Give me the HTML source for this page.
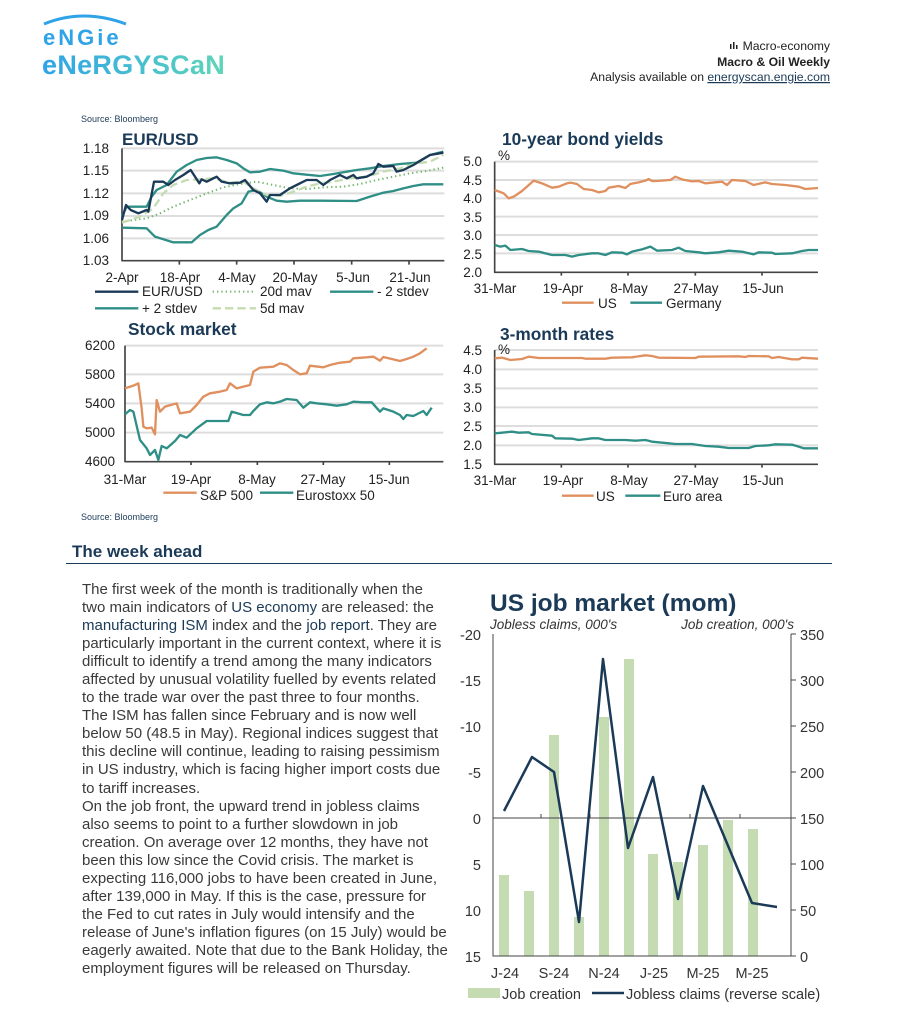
<!DOCTYPE html>
<html><head><meta charset="utf-8"><style>
body{margin:0;background:#fff;width:904px;height:1024px;overflow:hidden;position:relative;font-family:"Liberation Sans",sans-serif}
#para{position:absolute;left:82px;top:581px;font-size:15px;line-height:18.05px;color:#3a3a3a;white-space:nowrap}
#para span{color:#1b3a57}
</style></head><body>
<svg width="904" height="1024" style="position:absolute;left:0;top:0" font-family="Liberation Sans, sans-serif">
<defs><linearGradient id="lg" x1="0" x2="1"><stop offset="0" stop-color="#2ea3e8"/><stop offset="1" stop-color="#5fd6b8"/></linearGradient></defs>
<path d="M44 24 Q83 8 126 24" stroke="#2ea3e8" stroke-width="3" fill="none"/>
<text x="43" y="45" font-size="22" font-weight="bold" fill="#2ea3e8" letter-spacing="3">eNGie</text>
<text x="42" y="74" font-size="27" font-weight="bold" fill="url(#lg)" letter-spacing="0.3">eNeRGYSCaN</text>
<g fill="#222" font-size="12.2" text-anchor="end">
<rect x="730" y="44" width="1.5" height="5"/><rect x="733" y="42" width="1.5" height="7"/><rect x="736" y="45" width="1.5" height="4"/>
<text x="830" y="50">Macro-economy</text>
<text x="830" y="66" font-weight="bold">Macro &amp; Oil Weekly</text>
<text x="830" y="81">Analysis available on <tspan fill="#1b3a57" text-decoration="underline">energyscan.engie.com</tspan></text>
</g>
<text x="81" y="122" font-size="9" fill="#1b3a57">Source: Bloomberg</text>
<text x="81" y="520" font-size="9" fill="#1b3a57">Source: Bloomberg</text>

<text x="122" y="145" font-size="17" font-weight="bold" fill="#1b3a57">EUR/USD</text>
<g transform="scale(0.33333)" fill="none" stroke-linejoin="round">
<g stroke="#ddd" stroke-width="6"><path d="M366 445H1333M366 512H1333M366 580H1333M366 648H1333M366 715H1333"/></g>
<path d="M366 445V782H1333M538 782v12M710 782v12M882 782v12M1055 782v12M1227 782v12" stroke="#444" stroke-width="5"/>
<polyline stroke="#2f8f86" stroke-width="7" points="366,650 380,620 440,620 455,590 470,570 500,555 530,515 560,495 590,480 620,474 650,472 680,480 710,490 730,505 750,517 780,515 810,507 850,512 880,520 920,524 960,528 1000,522 1040,515 1070,510 1110,505 1150,498 1200,492 1250,488 1290,465 1330,455"/>
<polyline stroke="#2f8f86" stroke-width="7" points="366,683 440,685 465,710 520,727 575,727 600,705 625,690 650,680 680,645 700,625 725,610 745,575 770,570 800,590 830,602 860,605 900,602 960,602 1070,603 1110,590 1150,578 1180,573 1210,565 1240,558 1270,553 1330,553"/>
<polyline stroke="#6fb56a" stroke-width="6" stroke-dasharray="4 9" points="366,665 440,655 480,640 520,620 570,600 620,580 670,562 720,552 770,545 820,555 870,565 920,567 970,562 1030,560 1080,552 1130,540 1180,530 1230,520 1280,513 1330,503"/>
<polyline stroke="#c5dcb3" stroke-width="7" stroke-dasharray="25 12" points="366,668 420,650 460,625 490,580 520,555 560,540 600,538 640,535 690,548 730,545 760,565 800,585 840,588 880,575 920,560 960,550 1000,545 1050,535 1100,530 1150,515 1200,505 1250,490 1290,485 1330,465"/>
<polyline stroke="#1b3a57" stroke-width="7" points="366,660 378,615 392,630 415,640 440,630 445,635 462,545 490,545 505,555 525,540 550,525 572,510 585,530 598,550 605,538 620,545 650,530 665,545 690,550 720,548 735,540 760,570 780,580 800,605 810,585 840,585 870,565 900,550 920,540 950,540 970,555 990,540 1020,525 1040,535 1060,525 1070,535 1100,530 1120,520 1135,492 1150,500 1180,498 1190,515 1210,510 1240,495 1265,480 1290,465 1330,458"/>
<path d="M285 875H415" stroke="#1b3a57" stroke-width="7"/>
<path d="M638 875H768" stroke="#6fb56a" stroke-width="6" stroke-dasharray="4 9"/>
<path d="M990 875H1120" stroke="#2f8f86" stroke-width="7"/>
<path d="M285 925H415" stroke="#2f8f86" stroke-width="7"/>
<path d="M638 925H768" stroke="#c5dcb3" stroke-width="7" stroke-dasharray="25 12"/>
</g>
<g font-size="13.5" fill="#222">
<g text-anchor="end"><text x="109" y="153">1.18</text><text x="109" y="175">1.15</text><text x="109" y="198">1.12</text><text x="109" y="220">1.09</text><text x="109" y="243">1.06</text><text x="109" y="265">1.03</text></g>
<g text-anchor="middle"><text x="122" y="282">2-Apr</text><text x="180" y="282">18-Apr</text><text x="237" y="282">4-May</text><text x="295" y="282">20-May</text><text x="353" y="282">5-Jun</text><text x="410" y="282">21-Jun</text></g>
<text x="142" y="296">EUR/USD</text><text x="260" y="296">20d mav</text><text x="377" y="296">- 2 stdev</text>
<text x="142" y="313">+ 2 stdev</text><text x="260" y="313">5d mav</text>
</g>

<text x="502" y="145" font-size="17.3" font-weight="bold" fill="#1b3a57">10-year bond yields</text>
<text x="500" y="340" font-size="17.3" font-weight="bold" fill="#1b3a57">3-month rates</text>
<g transform="translate(452,120) scale(0.33333)" fill="none" stroke-linejoin="round">
<g stroke="#ddd" stroke-width="6"><path d="M128 125H1098M128 180H1098M128 235H1098M128 290H1098M128 345H1098M128 400H1098"/>
<path d="M128 690H1098M128 748H1098M128 805H1098M128 862H1098M128 918H1098M128 976H1098"/></g>
<path d="M128 125V457H1098M328 457v10M528 457v10M730 457v10M930 457v10" stroke="#444" stroke-width="5"/>
<path d="M128 690V1033H1098M328 1033v10M528 1033v10M730 1033v10M930 1033v10" stroke="#444" stroke-width="5"/>
<polyline stroke="#e0905f" stroke-width="7" points="128,210 155,220 170,235 185,230 210,213 225,200 245,182 270,190 300,203 320,200 345,190 355,188 375,192 395,207 420,210 440,217 460,213 470,203 500,198 520,204 535,192 560,187 580,182 590,177 600,183 615,183 655,180 670,170 690,178 720,184 740,183 760,190 790,187 810,185 825,195 840,180 880,183 905,195 940,187 960,192 1000,195 1040,200 1060,207 1098,204"/>
<polyline stroke="#2f8f86" stroke-width="7" points="128,375 145,380 160,377 175,390 210,387 230,393 260,395 300,405 340,405 360,410 380,405 420,400 440,400 460,405 480,397 510,398 525,403 540,395 570,388 595,380 615,392 660,390 680,383 700,393 740,397 760,400 800,397 830,392 870,395 905,403 920,397 960,398 970,402 1020,400 1050,393 1070,390 1098,390"/>
<polyline stroke="#e0905f" stroke-width="7" points="128,715 150,713 175,720 210,717 230,710 260,714 390,714 400,716 460,716 480,713 540,712 580,706 600,708 620,713 730,714 740,710 860,709 880,711 890,708 950,709 960,714 980,711 1020,718 1040,718 1050,713 1098,716"/>
<polyline stroke="#2f8f86" stroke-width="7" points="128,940 150,938 180,935 200,938 230,937 240,942 300,947 310,955 360,956 380,960 420,955 440,955 460,960 520,960 550,962 580,960 600,965 650,970 670,972 720,972 760,978 800,980 830,984 890,984 910,978 950,976 970,973 1020,974 1040,980 1055,985 1098,985"/>
<path d="M330 548H425" stroke="#e0905f" stroke-width="7"/><path d="M535 548H630" stroke="#2f8f86" stroke-width="7"/>
<path d="M330 1127H425" stroke="#e0905f" stroke-width="7"/><path d="M520 1127H625" stroke="#2f8f86" stroke-width="7"/>
</g>
<g font-size="13.5" fill="#222">
<g text-anchor="end"><text x="482" y="166">5.0</text><text x="482" y="185">4.5</text><text x="482" y="203">4.0</text><text x="482" y="222">3.5</text><text x="482" y="240">3.0</text><text x="482" y="259">2.5</text><text x="482" y="277">2.0</text>
<text x="482" y="355">4.5</text><text x="482" y="374">4.0</text><text x="482" y="393">3.5</text><text x="482" y="412">3.0</text><text x="482" y="431">2.5</text><text x="482" y="450">2.0</text><text x="482" y="469">1.5</text></g>
<text x="498" y="160">%</text><text x="498" y="354">%</text>
<g text-anchor="middle"><text x="495" y="293">31-Mar</text><text x="563" y="293">19-Apr</text><text x="629" y="293">8-May</text><text x="696" y="293">27-May</text><text x="763" y="293">15-Jun</text>
<text x="495" y="485">31-Mar</text><text x="563" y="485">19-Apr</text><text x="629" y="485">8-May</text><text x="696" y="485">27-May</text><text x="763" y="485">15-Jun</text></g>
<text x="598" y="308">US</text><text x="666" y="308">Germany</text>
<text x="596" y="501">US</text><text x="663" y="501">Euro area</text>
</g>

<text x="128" y="335" font-size="17.3" font-weight="bold" fill="#1b3a57">Stock market</text>
<g transform="translate(60,315) scale(0.33333)" fill="none" stroke-linejoin="round">
<g stroke="#ddd" stroke-width="6"><path d="M195 92H1150M195 178H1150M195 265H1150M195 353H1150"/></g>
<path d="M195 92V440H1150M393 440v10M592 440v10M790 440v10M988 440v10" stroke="#444" stroke-width="5"/>
<polyline stroke="#e0905f" stroke-width="7" points="195,220 220,212 235,205 245,280 250,335 260,340 275,338 285,358 290,255 300,290 315,275 350,265 360,295 390,290 410,270 430,245 450,235 480,230 500,225 510,205 530,220 550,215 570,210 580,170 600,158 640,155 660,145 680,150 700,165 720,178 740,175 750,152 790,157 810,150 840,143 870,140 880,130 920,127 940,125 960,137 970,126 1000,133 1020,138 1040,132 1060,125 1080,115 1100,100"/>
<polyline stroke="#2f8f86" stroke-width="7" points="195,298 210,285 220,290 240,375 260,400 270,420 285,405 295,435 305,393 320,400 345,378 360,360 380,368 410,340 440,318 470,318 505,318 515,290 550,300 570,300 580,288 600,268 620,262 640,265 660,260 680,252 710,255 730,278 750,262 770,265 800,268 830,272 860,268 880,260 910,262 935,262 960,290 970,280 1000,290 1020,300 1030,312 1040,300 1060,303 1090,288 1100,300 1115,278"/>
<path d="M310 533H410" stroke="#e0905f" stroke-width="7"/><path d="M600 533H700" stroke="#2f8f86" stroke-width="7"/>
</g>
<g font-size="13.5" fill="#222">
<g text-anchor="end"><text x="115" y="350">6200</text><text x="115" y="379">5800</text><text x="115" y="408">5400</text><text x="115" y="437">5000</text><text x="115" y="466">4600</text></g>
<g text-anchor="middle"><text x="125" y="484">31-Mar</text><text x="191" y="484">19-Apr</text><text x="257" y="484">8-May</text><text x="323" y="484">27-May</text><text x="389" y="484">15-Jun</text></g>
<text x="200" y="500">S&amp;P 500</text><text x="296" y="500">Eurostoxx 50</text>
</g>

<text x="72" y="557" font-size="17" font-weight="bold" fill="#1b3a57">The week ahead</text>
<path d="M66 563.5H832" stroke="#1b3a57" stroke-width="1"/>

<text x="490" y="611" font-size="24.5" font-weight="bold" fill="#1b3a57">US job market (mom)</text>
<text x="490" y="629" font-size="13.5" font-style="italic" fill="#333">Jobless claims, 000's</text>
<text x="794" y="629" font-size="13.5" font-style="italic" fill="#333" text-anchor="end">Job creation, 000's</text>
<g fill="#c5dcb3">
<rect x="499" y="875" width="10" height="81"/><rect x="524" y="891" width="10" height="65"/><rect x="549" y="735" width="10" height="221"/><rect x="574" y="917" width="10" height="39"/><rect x="599" y="717" width="10" height="239"/><rect x="624" y="659" width="10" height="297"/><rect x="648" y="854" width="10" height="102"/><rect x="673" y="862" width="10" height="94"/><rect x="698" y="845" width="10" height="111"/><rect x="723" y="820" width="10" height="136"/><rect x="748" y="829" width="10" height="127"/>
</g>
<path d="M493 634V956H791V634M493 818H791M541 818v-4M590 818v-4M690 818v-4M740 818v-4" stroke="#444" stroke-width="1" fill="none"/>
<path d="M791 634h5M791 680h5M791 726h5M791 772h5M791 818h5M791 864h5M791 910h5M791 956h5" stroke="#444" stroke-width="1"/>
<polyline fill="none" stroke="#1b3a57" stroke-width="2.5" stroke-linejoin="round" points="504,811 532,757 554,772 579,922 603,659 628,848 653,777 678,899 703,786 752,903 777,907"/>
<g font-size="14.5" fill="#333">
<g text-anchor="end"><text x="481" y="640">-20</text><text x="481" y="686">-15</text><text x="481" y="732">-10</text><text x="481" y="778">-5</text><text x="481" y="824">0</text><text x="481" y="870">5</text><text x="481" y="916">10</text><text x="481" y="962">15</text></g>
<text x="800" y="640">350</text><text x="800" y="686">300</text><text x="800" y="732">250</text><text x="800" y="778">200</text><text x="800" y="824">150</text><text x="800" y="870">100</text><text x="800" y="916">50</text><text x="800" y="962">0</text>
<g text-anchor="middle"><text x="505" y="978">J-24</text><text x="554" y="978">S-24</text><text x="604" y="978">N-24</text><text x="654" y="978">J-25</text><text x="703" y="978">M-25</text><text x="752" y="978">M-25</text></g>
<rect x="468" y="988" width="32" height="10" fill="#c5dcb3"/><text x="502" y="999">Job creation</text>
<path d="M592 993H624" stroke="#1b3a57" stroke-width="2.5"/><text x="626" y="999">Jobless claims (reverse scale)</text>
</g>
</svg>
<div id="para">The first week of the month is traditionally when the<br>two main indicators of <span>US economy</span> are released: the<br><span>manufacturing ISM</span> index and the <span>job report</span>. They are<br>particularly important in the current context, where it is<br>difficult to identify a trend among the many indicators<br>affected by unusual volatility fuelled by events related<br>to the trade war over the past three to four months.<br>The ISM has fallen since February and is now well<br>below 50 (48.5 in May). Regional indices suggest that<br>this decline will continue, leading to raising pessimism<br>in US industry, which is facing higher import costs due<br>to tariff increases.<br>On the job front, the upward trend in jobless claims<br>also seems to point to a further slowdown in job<br>creation. On average over 12 months, they have not<br>been this low since the Covid crisis. The market is<br>expecting 116,000 jobs to have been created in June,<br>after 139,000 in May. If this is the case, pressure for<br>the Fed to cut rates in July would intensify and the<br>release of June's inflation figures (on 15 July) would be<br>eagerly awaited. Note that due to the Bank Holiday, the<br>employment figures will be released on Thursday.</div>
</body></html>
